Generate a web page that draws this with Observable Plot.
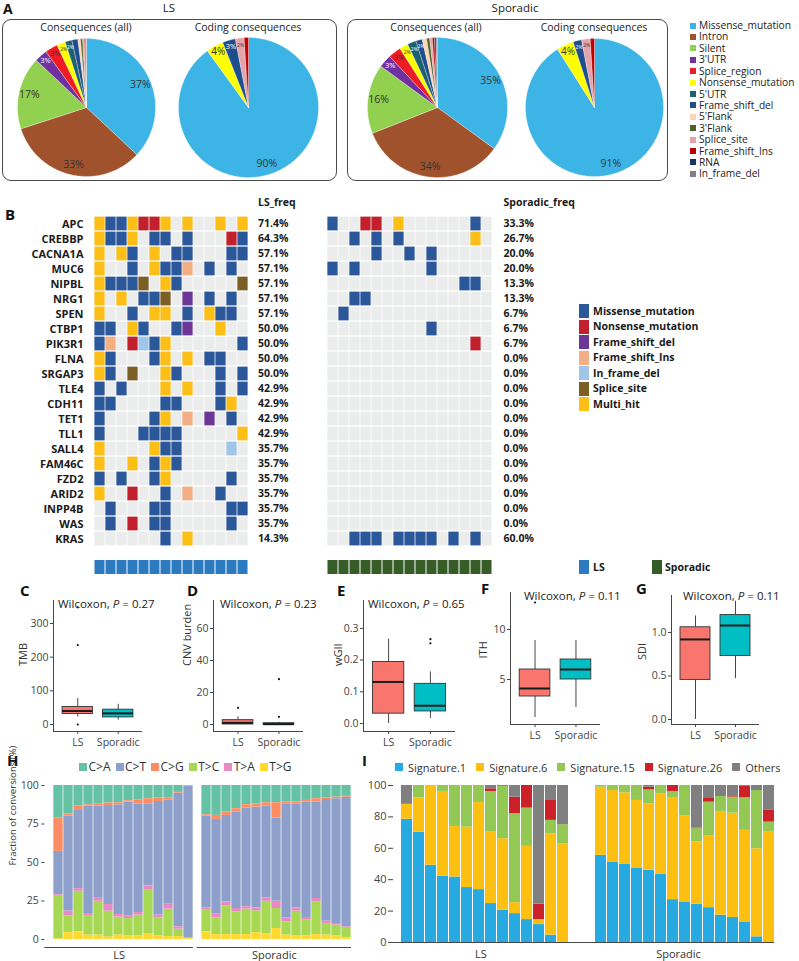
<!DOCTYPE html>
<html>
<head>
<meta charset="utf-8">
<script src="https://cdn.jsdelivr.net/npm/d3@7"></script>
<script src="https://cdn.jsdelivr.net/npm/@observablehq/plot@0.6"></script>
<style>
html,body{margin:0;padding:0;background:#fff;}
#root{position:relative;width:799px;height:961px;overflow:hidden;font-family:"Open Sans",sans-serif;color:#222;}
.box{position:absolute;border:1px solid #4a4a4a;border-radius:9px;box-sizing:border-box;}
.leg{position:absolute;display:flex;align-items:center;white-space:nowrap;line-height:1;}
.sq{display:inline-block;flex:none;}
</style>
</head>
<body>
<div id="root"></div>
<script>
// ================= DATA =================
// Panel A – variant consequences (percent of variants)
const pieCategories = ["Missense_mutation","Intron","Silent","3'UTR","Splice_region","Nonsense_mutation","5'UTR","Frame_shift_del","5'Flank","3'Flank","Splice_site","Frame_shift_Ins","RNA","In_frame_del"];
const pieColors = ["#3cb4e6","#a0522d","#92d050","#7030a0","#ee1c25","#ffff00","#1d6070","#1f4e8c","#fbd5b5","#4f6228","#e6a3ab","#c00000","#17375e","#7f7f7f"];
const lightLabelCats = ["3'UTR","5'UTR","Frame_shift_del","3'Flank","Frame_shift_Ins","RNA","In_frame_del"];
const lsAllPct      = [37, 33, 17, 3, 3, 2, 1.6, 1.4, 0.6, 0.5, 0.4, 0.3, 0.1, 0.1];
const lsCodingPct   = [90, 0, 0, 0, 0, 4, 0, 3, 0, 0, 2, 1, 0, 0];
const spAllPct      = [35, 34, 16, 3, 3, 2, 2, 1.5, 1, 0.7, 0.6, 0.5, 0.4, 0.3];
const spCodingPct   = [91, 0, 0, 0, 0, 4, 0, 2, 0, 0, 2, 1, 0, 0];

// Panel B – oncoprint
const genes = ["APC","CREBBP","CACNA1A","MUC6","NIPBL","NRG1","SPEN","CTBP1","PIK3R1","FLNA","SRGAP3","TLE4","CDH11","TET1","TLL1","SALL4","FAM46C","FZD2","ARID2","INPP4B","WAS","KRAS"];
const mutTypes = ["Missense_mutation","Nonsense_mutation","Frame_shift_del","Frame_shift_Ins","In_frame_del","Splice_site","Multi_hit"];
const mutColors = ["#2b579b","#c3202d","#6c3797","#f4ae84","#9fc5e8","#7c5f25","#fdbf16"];
const mutCodes = "MNDIFSH"; // one letter per mutTypes entry, "." = none
const lsMatrix = [
  "HMMHNNH.H..H.H","HMMH.MM.M...NM","H.HM.H.MM...MM","H..M.HMMI.M.M.","HMMMS.HM.....S",
  "H.H.MMS.D.M.M.","H..M.HH.M.HMM.","MM.HM..MD..H..","MI.NFMH......M","HM...MH.H.MM..",
  "HM.S..HM...M.M","M.M...H.H..M.M","MM....MM...MH.","M....MH.I.D.M.","M...MMMM.....H",
  "H....HMM....F.","H..H.MHM......","M.M..MH.....M.","H..N..M.I..M..",".M...MM.....MM",
  ".M.N.MM.....M.","......M.H....."
];
const spMatrix = [
  "M..NN.H......M.","..M.M.M......H.","....M..M.M.....","M.M......M.....","............MM.",
  "..MM...........",".M.............",".........M.....",".............N.","...............",
  "...............","...............","...............","...............","...............",
  "...............","...............","...............","...............","...............",
  "...............","..MMM.MMMM.M.M."
];
const groupNames = ["LS","Sporadic"];
const groupColors = ["#2c7bc1","#375d26"];

// Panels C–G – box plot summaries [lower whisker, Q1, median, Q3, upper whisker]; outliers [group, value]
const boxColors = ["#f8766d","#00bfc4"];
const tmbLS = [22, 31, 40, 52, 77],          tmbSp = [13, 21, 33, 44, 60];
const tmbOutliers = [[1, 236], [1, 0], [1, 348]];
const cnvLS = [0, 0, 1.0, 2.7, 4.8],         cnvSp = [0, 0, 0.2, 0.8, 1.4];
const cnvOutliers = [[1, 10.4], [2, 4.8], [2, 28.3]];
const wgiiLS = [0.0, 0.031, 0.131, 0.194, 0.266], wgiiSp = [0.016, 0.038, 0.056, 0.125, 0.163];
const wgiiOutliers = [[2, 0.266], [2, 0.253]];
const ithLS = [1.2, 3.3, 4.1, 6.0, 8.9],     ithSp = [2.2, 5.0, 6.0, 7.0, 8.9];
const ithOutliers = [[1, 12.7]];
const sdiLS = [0.0, 0.455, 0.92, 1.06, 1.19], sdiSp = [0.47, 0.73, 1.08, 1.2, 1.36];
const sdiOutliers = [];
const pValues = ["0.27","0.23","0.65","0.11","0.11"];

// Panel H – fraction of conversions (%), columns follow hTypes
const hTypes = ["C>A","C>T","C>G","T>C","T>A","T>G"];
const hColors = ["#66c2a5","#8da0cb","#fc8d62","#a6d854","#e78ac3","#ffd92f"];
const hStackOrder = ["T>G","T>C","T>A","C>T","C>G","C>A"];
const hLS = [
  [21.2,28,21.6,28.1,0.5,0.6],[18.4,61.7,1.5,10.8,3.1,4.5],[13.4,50.8,2.8,26.3,1.7,5],[12.5,70.2,0.9,12.3,1.3,2.8],
  [12.1,59.4,1.3,22,2.4,2.8],[11.4,64.3,1.6,16.9,4.3,1.5],[11.2,71.3,1.3,11.7,1.7,2.8],[9.9,74.1,0.9,11.4,1.5,2.2],
  [9.3,70.6,2.6,13.2,1.7,2.6],[8.6,53.3,3.3,28.1,2.8,3.9],[8,73.8,2.4,11.4,1.8,2.6],[8.2,67.4,1.1,17.8,3.6,1.9],
  [3.9,86.8,1.1,4.8,1.5,1.9],[0,98.7,0.4,0.3,0,0.6]
];
const hSp = [
  [19,59.6,0.9,14,1.5,5],[19.4,61.2,2.6,10.8,2.8,3.2],[17.3,56.2,2.1,18.6,2.6,3.2],[15.1,62.6,2.2,14.7,2.2,3.2],
  [12.5,64.1,2.2,16.5,1.5,3.2],[11.9,65.5,2.1,14.1,1.9,4.5],[11.2,59.6,2.2,21.3,2.2,3.5],[11.2,54,10,13,4.7,7.1],
  [10.8,74.1,1.1,8.6,2.6,2.8],[10.8,67.6,1.1,16.2,2.1,2.2],[9.7,74.9,1.1,10.3,1.8,2.2],[8.6,62.6,2.2,21.2,2.2,3.2],
  [8.2,79,0.9,7.6,1.5,2.8],[7.6,81,1,7.1,1.1,2.2],[6.5,84.2,1.1,6.7,0.4,1.1]
];

// Panel I – signature contributions (%), columns follow sigTypes
const sigTypes = ["Signature.1","Signature.6","Signature.15","Signature.26","Others"];
const sigColors = ["#27aae1","#fdc010","#92c853","#cc2128","#808080"];
const iLS = [
  [78.5,9.5,0,0,12],[70.3,21.9,7.8,0,0],[49.2,50.8,0,0,0],[42.2,54,3.8,0,0],[41.7,32.2,26.1,0,0],
  [35,38.5,26.5,0,0],[33.7,55.5,10.8,0,0],[24.8,45.5,25.9,1.7,2.1],[20.6,45.5,33.3,0,0.6],[18.4,7,56.6,10.6,7.4],
  [14.6,46.6,24.4,14.4,0],[11.4,3.2,0,9.8,75.6],[4.7,64.6,8.5,13.1,9.1],[0,62.9,12.1,0,25]
];
const iSp = [
  [55.5,43.4,1.1,0,0],[51.3,45.5,3.2,0,0],[50,45.3,4.7,0,0],[47.5,43,9.5,0,0],[46,42.3,8.9,1.7,1.1],
  [43.4,51.1,5.5,0,0],[27.3,64.6,4.3,3.8,0],[25.8,54.7,19.5,0,0],[24.4,39.6,8.5,0.4,27.1],[22.2,45.6,21.6,2.8,7.8],
  [17.4,66.1,9.5,0,7],[15.9,66.5,10.2,0.4,7],[13.1,58.3,20.8,7.2,0.6],[3.6,56.1,37.1,0,3.2],[0,70.3,6.4,7.8,15.5]
];

// ================= HELPERS =================
const root = document.getElementById("root");
const FONT = "font-family:'Open Sans',sans-serif;";
const baseStyle = "background:transparent;overflow:visible;" + FONT + "font-size:10.5px;color:#444;";
function mount(el, left, top) {
  el.style.position = "absolute";
  el.style.left = left + "px";
  el.style.top = top + "px";
  root.appendChild(el);
  return el;
}
function txt(html, x, baseline, size, opts = {}) {
  const d = document.createElement("div");
  d.innerHTML = html;
  d.style.cssText = `position:absolute;left:${x}px;top:${baseline - 0.888 * size}px;font-size:${size}px;line-height:1;white-space:nowrap;font-weight:${opts.weight || "normal"};color:${opts.color || "#222"};`;
  if (opts.anchor === "middle") d.style.transform = "translateX(-50%)";
  if (opts.anchor === "end") d.style.transform = "translateX(-100%)";
  root.appendChild(d);
  return d;
}
function rect(x, y, w, h, color) {
  const d = document.createElement("div");
  d.style.cssText = `position:absolute;left:${x}px;top:${y}px;width:${w}px;height:${h}px;background:${color};`;
  root.appendChild(d);
}

// ================= PANEL A =================
txt("A", 3, 14, 14, {weight: "bold", color: "#111"});
txt("LS", 169, 12.5, 11.5, {anchor: "middle"});
txt("Sporadic", 515, 12.5, 11.5, {anchor: "middle"});
for (const [x, w] of [[2, 335], [347, 321]]) {
  const b = document.createElement("div");
  b.className = "box";
  b.style.cssText += `left:${x}px;top:19px;width:${w}px;height:162px;`;
  root.appendChild(b);
}
txt("Consequences (all)", 86, 31, 10.5, {anchor: "middle"});
txt("Coding consequences", 248, 31, 10.5, {anchor: "middle"});
txt("Consequences (all)", 436, 31, 10.5, {anchor: "middle"});
txt("Coding consequences", 594, 31, 10.5, {anchor: "middle"});

function piePlot(values, cx, cy, r) {
  const arcs = d3.pie().sort(null).value(d => d)(values);
  const pts = [], labs = [];
  arcs.forEach((a, i) => {
    if (!(a.value > 0)) return;
    const cat = pieCategories[i];
    const n = Math.max(2, Math.ceil((a.endAngle - a.startAngle) / 0.01));
    pts.push({cat, x: 0, y: 0});
    for (let k = 0; k <= n; k++) {
      const t = a.startAngle + (a.endAngle - a.startAngle) * k / n;
      pts.push({cat, x: Math.sin(t), y: Math.cos(t)});
    }
    pts.push({cat, x: 0, y: 0});
    if (a.value >= 1.5) {
      const m = (a.startAngle + a.endAngle) / 2, rr = a.value >= 10 ? 0.85 : 0.9;
      labs.push({cat, v: a.value, x: rr * Math.sin(m), y: rr * Math.cos(m), text: Math.round(a.value) + "%", light: lightLabelCats.includes(cat)});
    }
  });
  const fs = d => d.v >= 10 ? 10.5 : d.v >= 3.5 ? 10 : d.v >= 2.5 ? 7.5 : 5;
  const p = Plot.plot({
    width: 2 * r + 2, height: 2 * r + 2, margin: 1,
    x: {domain: [-1, 1], axis: null}, y: {domain: [-1, 1], axis: null},
    color: {domain: pieCategories, range: pieColors},
    style: baseStyle,
    marks: [
      Plot.line(pts, {x: "x", y: "y", z: "cat", fill: "cat", stroke: "#ffffff", strokeWidth: 0.5, strokeOpacity: 0.6}),
      Plot.text(labs.filter(d => !d.light), {x: "x", y: "y", text: "text", fill: "#333", fontSize: fs}),
      Plot.text(labs.filter(d => d.light), {x: "x", y: "y", text: "text", fill: "#ffffff", fontSize: fs})
    ]
  });
  mount(p, cx - r - 1, cy - r - 1);
}
piePlot(lsAllPct, 86, 107, 69);
piePlot(lsCodingPct, 248, 107, 70);
piePlot(spAllPct, 437, 107, 70);
piePlot(spCodingPct, 594, 107, 69);

pieCategories.forEach((c, i) => {
  const cy = 25.5 + 11.41 * i;
  rect(690, cy - 3, 6, 6, pieColors[i]);
  txt(c, 699, cy + 3.6, 10.2);
});

// ================= PANEL B =================
txt("B", 5, 220.5, 15, {weight: "bold", color: "#111"});
const cellInset = {insetLeft: 0.4, insetRight: 0.4, insetTop: 0.65, insetBottom: 0.65};
function oncoPlot(matrix, header, left, width, mL, mR, showGenes) {
  const nCols = matrix[0].length;
  const cells = [];
  matrix.forEach((row, gi) => row.split("").forEach((c, ci) =>
    cells.push({gene: genes[gi], col: ci, type: mutTypes[mutCodes.indexOf(c)]})));
  const freq = matrix.map(row => (row.replace(/\./g, "").length / nCols * 100).toFixed(1) + "%");
  const p = Plot.plot({
    width, height: 370, marginLeft: mL, marginRight: mR, marginTop: 20.5, marginBottom: 8.5,
    x: {type: "band", domain: d3.range(nCols), padding: 0, axis: null},
    y: {type: "band", domain: genes, padding: 0, axis: null},
    color: {domain: mutTypes, range: mutColors},
    style: "background:transparent;overflow:visible;" + FONT + "font-size:10.5px;font-weight:bold;color:#1a1a1a;",
    marks: [
      Plot.cell(cells, {x: "col", y: "gene", fill: "#ebecec", ...cellInset}),
      Plot.cell(cells.filter(d => d.type), {x: "col", y: "gene", fill: "type", ...cellInset}),
      showGenes ? Plot.axisY({tickSize: 0, tickPadding: 4, fontSize: 11, label: null}) : null,
      Plot.text(genes, {y: d => d, text: (d, i) => freq[i], frameAnchor: "right", textAnchor: "start", dx: 3.5}),
      Plot.text([header], {frameAnchor: "top-right", textAnchor: "start", lineAnchor: "bottom", dx: 3.5, dy: -5})
    ]
  });
  mount(p, left, 190);
}
oncoPlot(lsMatrix, "LS_freq", 0, 300, 87, 46, true);
oncoPlot(spMatrix, "Sporadic_freq", 300, 300, 20, 100.5, false);

function annoPlot(n, color, left, width, mL, mR) {
  const p = Plot.plot({
    width, height: 18, marginLeft: mL, marginRight: mR, marginTop: 2, marginBottom: 2,
    x: {type: "band", domain: d3.range(n), padding: 0, axis: null},
    style: baseStyle,
    marks: [Plot.cell(d3.range(n), {x: d => d, fill: color, insetLeft: 0.5, insetRight: 0.5})]
  });
  mount(p, left, 558);
}
annoPlot(lsMatrix[0].length, groupColors[0], 0, 300, 87, 46);
annoPlot(spMatrix[0].length, groupColors[1], 300, 300, 20, 100.5);

mutTypes.forEach((t, i) => {
  const cy = 311 + 15.5 * i;
  rect(579, cy - 7, 10, 14, mutColors[i]);
  txt(t, 593, cy + 4, 10.5, {weight: "bold", color: "#1a1a1a"});
});
rect(579, 560, 10, 14, groupColors[0]);
txt(groupNames[0], 593, 571, 10.5, {weight: "bold", color: "#1a1a1a"});
rect(652, 560, 10, 14, groupColors[1]);
txt(groupNames[1], 665, 571, 10.5, {weight: "bold", color: "#1a1a1a"});

// ================= PANELS C–G =================
function boxPlot({stats, outliers, left, top, width, height, mL, mR, mT, mB, yDomain, ticks, fmt, label, labelDx}) {
  const rows = stats.map((s, i) => ({pos: i + 1, grp: groupNames[i], lo: s[0], q1: s[1], med: s[2], q3: s[3], hi: s[4]}));
  const outs = outliers.map(([g, v]) => ({pos: g, v}));
  const p = Plot.plot({
    width, height, marginLeft: mL, marginRight: mR, marginTop: mT, marginBottom: mB,
    x: {domain: [0.4, 2.6], axis: null}, y: {domain: yDomain, axis: null},
    color: {domain: groupNames, range: boxColors},
    style: baseStyle,
    marks: [
      Plot.ruleX(rows, {x: "pos", y1: "lo", y2: "q1", stroke: "#333", strokeWidth: 0.9}),
      Plot.ruleX(rows, {x: "pos", y1: "q3", y2: "hi", stroke: "#333", strokeWidth: 0.9}),
      Plot.rect(rows, {x1: d => d.pos - 0.375, x2: d => d.pos + 0.375, y1: "q1", y2: "q3", fill: "grp", stroke: "#333", strokeWidth: 0.9}),
      Plot.ruleY(rows, {x1: d => d.pos - 0.375, x2: d => d.pos + 0.375, y: "med", stroke: "#1a1a1a", strokeWidth: 2}),
      Plot.dot(outs, {x: "pos", y: "v", r: 1.1, fill: "#111"}),
      Plot.ruleX([0.4], {stroke: "#333", strokeWidth: 0.9}),
      Plot.ruleY([yDomain[0]], {stroke: "#333", strokeWidth: 0.9}),
      Plot.axisY({ticks, tickFormat: fmt, tickSize: 3, tickPadding: 2, label: null}),
      Plot.axisX({ticks: [1, 2], tickFormat: i => groupNames[i - 1], tickSize: 3, tickPadding: 4.5, label: null}),
      Plot.text([label], {frameAnchor: "left", rotate: -90, dx: -labelDx, fontSize: 11, fill: "#333"})
    ]
  });
  mount(p, left, top);
}
const f1 = d3.format(".1f");
boxPlot({stats: [tmbLS, tmbSp], outliers: tmbOutliers, left: 0, top: 590, width: 150, height: 160, mL: 53, mR: 8, mT: 10, mB: 19,
  yDomain: [-20.8, 368.3], ticks: [0, 100, 200, 300], fmt: d3.format("d"), label: "TMB", labelDx: 30});
boxPlot({stats: [cnvLS, cnvSp], outliers: cnvOutliers, left: 160, top: 590, width: 150, height: 160, mL: 53, mR: 7, mT: 10, mB: 19,
  yDomain: [-4.375, 77.5], ticks: [0, 20, 40, 60], fmt: d3.format("d"), label: "CNV burden", labelDx: 26});
boxPlot({stats: [wgiiLS, wgiiSp], outliers: wgiiOutliers, left: 310, top: 590, width: 150, height: 160, mL: 53, mR: 5, mT: 10, mB: 19,
  yDomain: [-0.0253, 0.388], ticks: [0, 0.1, 0.2, 0.3], fmt: f1, label: "wGII", labelDx: 25.5});
boxPlot({stats: [ithLS, ithSp], outliers: ithOutliers, left: 457, top: 582, width: 150, height: 160, mL: 53, mR: 7, mT: 10, mB: 18,
  yDomain: [0.5, 13.7], ticks: [5, 10], fmt: d3.format("d"), label: "ITH", labelDx: 27});
boxPlot({stats: [sdiLS, sdiSp], outliers: sdiOutliers, left: 618, top: 585, width: 150, height: 160, mL: 53, mR: 9, mT: 10, mB: 21,
  yDomain: [-0.0575, 1.425], ticks: [0, 0.5, 1.0], fmt: f1, label: "SDI", labelDx: 29});

txt("C", 20, 596, 15, {weight: "bold", color: "#111"});
txt("D", 187, 596, 15, {weight: "bold", color: "#111"});
txt("E", 337, 596, 15, {weight: "bold", color: "#111"});
txt("F", 481, 594, 15, {weight: "bold", color: "#111"});
txt("G", 636, 594, 15, {weight: "bold", color: "#111"});
[[58, 608], [220, 608], [368, 608], [524, 600], [683, 600]].forEach(([x, y], i) =>
  txt(`Wilcoxon, <i>P</i> = ${pValues[i]}`, x, y, 11.5, {color: "#222"}));

// ================= PANEL H =================
txt("H", 7, 766.5, 15, {weight: "bold", color: "#111"});
const toLong = (rows, types) => rows.flatMap((r, i) => r.map((v, j) => ({sample: i, type: types[j], value: v})));
function stackPlot({rows, types, colors, order, left, top, width, height, mL, mR, mT, mB, yDomain, po, pi, inset, yAxis, groupLabel, labelDy, labelDx}) {
  const n = rows.length;
  const p = Plot.plot({
    width, height, marginLeft: mL, marginRight: mR, marginTop: mT, marginBottom: mB,
    x: {type: "band", domain: d3.range(n), paddingInner: pi, paddingOuter: po, align: 1, axis: null},
    y: {domain: yDomain, axis: null},
    color: {domain: types, range: colors},
    style: baseStyle,
    marks: [
      Plot.barY(toLong(rows, types), {x: "sample", y: "value", fill: "type", order, insetLeft: inset, insetRight: inset}),
      Plot.ruleY([yDomain[0]], {stroke: "#333", strokeWidth: 0.9}),
      yAxis ? Plot.axisY(yAxis) : null,
      yAxis && yAxis.title ? Plot.text([yAxis.title], {frameAnchor: "left", rotate: -90, dx: -yAxis.titleDx, dy: 3, fontSize: 9.6, fill: "#333"}) : null,
      Plot.text([groupLabel], {frameAnchor: "bottom", lineAnchor: "bottom", dy: labelDy, dx: labelDx || 0, fontSize: 11, fill: "#333"})
    ]
  });
  mount(p, left, top);
}
stackPlot({rows: hLS, types: hTypes, colors: hColors, order: hStackOrder, left: 0, top: 770, width: 200, height: 190,
  mL: 44.3, mR: 7, mT: 7, mB: 13, yDomain: [-5.2, 105.2], po: 0.23, pi: 0, inset: 0.35,
  yAxis: {ticks: [0, 25, 50, 75, 100], tickSize: 3, tickPadding: 3, line: true, label: null, title: "Fraction of conversions (%)", titleDx: 32},
  groupLabel: groupNames[0], labelDy: 11});
stackPlot({rows: hSp, types: hTypes, colors: hColors, order: hStackOrder, left: 190, top: 770, width: 170, height: 190,
  mL: 6.7, mR: 9, mT: 7, mB: 13, yDomain: [-5.2, 105.2], po: 0.027, pi: 0, inset: 0.35,
  yAxis: null, groupLabel: groupNames[1], labelDy: 11});

const hLeg = document.createElement("div");
hLeg.className = "leg";
hLeg.style.cssText += "left:79px;top:761px;height:12px;font-size:12px;color:#333;";
hTypes.forEach((t, i) => {
  hLeg.insertAdjacentHTML("beforeend", `<span class="sq" style="width:8px;height:8px;background:${hColors[i]};margin-right:1.5px"></span><span style="margin-right:5px">${t.replace(">", "&gt;")}</span>`);
});
root.appendChild(hLeg);

// ================= PANEL I =================
txt("I", 362, 766.5, 15, {weight: "bold", color: "#111"});
const sigOrder = sigTypes.slice();
stackPlot({rows: iLS, types: sigTypes, colors: sigColors, order: sigOrder, left: 350, top: 778, width: 220, height: 183,
  mL: 43, mR: 2, mT: 7, mB: 19, yDomain: [0, 100], po: 0.06, pi: 0.08, inset: 0,
  yAxis: {ticks: [0, 20, 40, 60, 80, 100], tickSize: 5, tickPadding: 2, line: true, label: null, fontSize: 11},
  groupLabel: groupNames[0], labelDy: 15});
stackPlot({rows: iSp, types: sigTypes, colors: sigColors, order: sigOrder, left: 560, top: 778, width: 220, height: 183,
  mL: 8, mR: 6, mT: 7, mB: 19, yDomain: [0, 100], po: 0.586, pi: 0.08, inset: 0,
  yAxis: null, groupLabel: groupNames[1], labelDy: 15, labelDx: 7});

const iLeg = document.createElement("div");
iLeg.className = "leg";
iLeg.style.cssText += "left:395px;top:761.5px;height:11px;font-size:11px;color:#333;";
sigTypes.forEach((t, i) => {
  iLeg.insertAdjacentHTML("beforeend", `<span class="sq" style="width:8px;height:8px;background:${sigColors[i]};margin-right:5px"></span><span style="margin-right:10px">${t}</span>`);
});
root.appendChild(iLeg);
</script>
</body>
</html>
